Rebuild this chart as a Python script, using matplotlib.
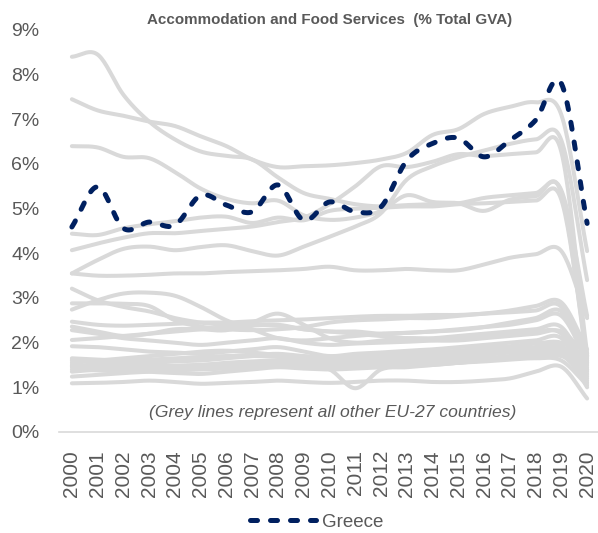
import numpy as np
import matplotlib
matplotlib.use("Agg")
import matplotlib.pyplot as plt

plt.rcParams['font.family'] = ['Liberation Sans', 'DejaVu Sans']

years = list(range(2000, 2021))

greece = [4.59, 5.49, 4.56, 4.70, 4.63, 5.30, 5.08, 4.93, 5.53, 4.74, 5.15,
          4.93, 5.04, 6.08, 6.46, 6.58, 6.16, 6.53, 6.98, 7.80, 4.67]

# other EU-27 countries (grey)
others = [
    [8.40, 8.45, 7.55, 6.95, 6.55, 6.28, 6.18, 6.10, 5.70, 5.35, 5.22, 5.10, 5.05, 5.08, 5.10, 5.12, 5.24, 5.30, 5.35, 5.41, 2.60],
    [7.45, 7.20, 7.08, 6.95, 6.85, 6.62, 6.40, 6.10, 5.93, 5.95, 5.97, 6.02, 6.10, 6.25, 6.65, 6.78, 7.12, 7.28, 7.38, 7.10, 4.05],
    [6.40, 6.37, 6.16, 6.13, 5.82, 5.45, 5.22, 5.12, 5.18, 4.85, 4.75, 4.80, 4.95, 5.30, 5.15, 5.12, 4.95, 5.20, 5.28, 5.35, 1.55],
    [4.44, 4.41, 4.56, 4.65, 4.72, 4.80, 4.82, 4.68, 4.80, 4.74, 4.95, 5.00, 5.02, 5.05, 5.05, 5.10, 5.12, 5.15, 5.18, 5.20, 1.70],
    [4.07, 4.22, 4.35, 4.45, 4.45, 4.50, 4.55, 4.60, 4.70, 4.80, 5.10, 5.50, 5.95, 5.93, 6.05, 6.22, 6.18, 6.22, 6.26, 6.27, 1.75],
    [3.55, 3.85, 4.10, 4.15, 4.07, 4.14, 4.18, 4.05, 3.95, 4.15, 4.37, 4.60, 4.90, 5.65, 5.95, 6.15, 6.30, 6.45, 6.55, 6.53, 3.40],
    [3.55, 3.50, 3.50, 3.52, 3.55, 3.55, 3.58, 3.60, 3.62, 3.65, 3.70, 3.62, 3.62, 3.65, 3.62, 3.62, 3.75, 3.90, 3.98, 4.05, 2.55],
    [3.21, 2.95, 2.80, 2.70, 2.55, 2.45, 2.40, 2.40, 2.38, 2.30, 2.25, 2.25, 2.20, 2.22, 2.25, 2.30, 2.35, 2.40, 2.50, 2.60, 1.60],
    [2.88, 2.88, 2.87, 2.82, 2.50, 2.36, 2.30, 2.28, 2.30, 2.35, 2.45, 2.50, 2.52, 2.55, 2.55, 2.60, 2.65, 2.72, 2.82, 2.90, 1.85],
    [2.74, 2.95, 3.10, 3.12, 3.05, 2.80, 2.50, 2.30, 2.10, 2.05, 2.10, 2.15, 2.20, 2.22, 2.25, 2.28, 2.35, 2.45, 2.55, 2.70, 1.70],
    [2.47, 2.40, 2.38, 2.40, 2.42, 2.45, 2.45, 2.48, 2.50, 2.52, 2.55, 2.58, 2.60, 2.60, 2.62, 2.62, 2.65, 2.68, 2.72, 2.80, 1.50],
    [2.36, 2.25, 2.15, 2.20, 2.30, 2.30, 2.28, 2.45, 2.65, 2.40, 2.10, 2.00, 2.05, 2.10, 2.10, 2.15, 2.20, 2.25, 2.30, 2.35, 1.40],
    [2.28, 2.20, 2.10, 2.05, 2.00, 1.95, 2.00, 2.05, 2.10, 2.00, 1.95, 1.98, 2.00, 2.02, 2.05, 2.10, 2.15, 2.20, 2.25, 2.20, 1.30],
    [2.06, 2.10, 2.15, 2.20, 2.25, 2.30, 2.35, 2.38, 2.40, 2.30, 2.25, 2.20, 2.15, 2.10, 2.05, 2.05, 2.10, 2.15, 2.20, 2.25, 1.70],
    [1.92, 1.90, 1.85, 1.80, 1.78, 1.75, 1.80, 1.85, 1.90, 1.80, 1.70, 1.75, 1.78, 1.82, 1.85, 1.90, 1.95, 2.00, 2.05, 2.10, 1.20],
    [1.65, 1.62, 1.60, 1.62, 1.65, 1.68, 1.70, 1.72, 1.75, 1.70, 1.68, 1.70, 1.72, 1.75, 1.78, 1.82, 1.88, 1.92, 1.98, 2.00, 1.65],
    [1.60, 1.55, 1.52, 1.50, 1.48, 1.50, 1.52, 1.55, 1.58, 1.55, 1.52, 1.55, 1.58, 1.60, 1.65, 1.70, 1.75, 1.80, 1.85, 1.90, 1.10],
    [1.55, 1.60, 1.65, 1.70, 1.75, 1.80, 1.82, 1.78, 1.72, 1.65, 1.60, 1.62, 1.65, 1.68, 1.70, 1.72, 1.75, 1.78, 1.82, 1.85, 1.45],
    [1.50, 1.48, 1.45, 1.42, 1.40, 1.42, 1.45, 1.50, 1.55, 1.50, 1.48, 1.50, 1.52, 1.55, 1.58, 1.62, 1.65, 1.70, 1.75, 1.80, 1.25],
    [1.45, 1.50, 1.55, 1.60, 1.62, 1.65, 1.68, 1.70, 1.68, 1.62, 1.58, 1.60, 1.62, 1.65, 1.68, 1.72, 1.78, 1.85, 1.90, 1.95, 1.00],
    [1.40, 1.38, 1.35, 1.38, 1.40, 1.45, 1.48, 1.50, 1.48, 1.45, 1.40, 0.98, 1.40, 1.45, 1.50, 1.55, 1.60, 1.65, 1.70, 1.72, 1.15],
    [1.35, 1.40, 1.42, 1.45, 1.48, 1.50, 1.55, 1.58, 1.60, 1.55, 1.50, 1.52, 1.55, 1.58, 1.62, 1.68, 1.72, 1.78, 1.80, 1.75, 1.35],
    [1.24, 1.28, 1.32, 1.35, 1.38, 1.40, 1.42, 1.45, 1.48, 1.45, 1.42, 1.45, 1.48, 1.50, 1.52, 1.55, 1.58, 1.62, 1.65, 1.60, 1.05],
    [1.09, 1.10, 1.12, 1.15, 1.12, 1.08, 1.10, 1.12, 1.15, 1.12, 1.10, 1.12, 1.15, 1.15, 1.12, 1.12, 1.15, 1.20, 1.35, 1.46, 0.75],
    [1.62, 1.58, 1.55, 1.55, 1.58, 1.60, 1.65, 1.70, 1.72, 1.68, 1.65, 1.68, 1.70, 1.72, 1.75, 1.78, 1.82, 1.85, 1.88, 1.90, 1.55],
    [1.48, 1.45, 1.40, 1.35, 1.32, 1.30, 1.35, 1.40, 1.45, 1.42, 1.40, 1.42, 1.45, 1.48, 1.50, 1.55, 1.60, 1.65, 1.68, 1.70, 1.40],
]


def smooth(xs, ys, n=20):
    # catmull-rom, like excel's smoothed lines
    x = np.asarray(xs, float)
    y = np.asarray(ys, float)
    px = np.concatenate([[2 * x[0] - x[1]], x, [2 * x[-1] - x[-2]]])
    py = np.concatenate([[2 * y[0] - y[1]], y, [2 * y[-1] - y[-2]]])
    outx, outy = [], []
    t = np.linspace(0, 1, n, endpoint=False)
    for i in range(1, len(px) - 2):
        for p, out in ((px, outx), (py, outy)):
            p0, p1, p2, p3 = p[i - 1], p[i], p[i + 1], p[i + 2]
            out.extend(0.5 * ((2 * p1) + (-p0 + p2) * t
                              + (2 * p0 - 5 * p1 + 4 * p2 - p3) * t ** 2
                              + (-p0 + 3 * p1 - 3 * p2 + p3) * t ** 3))
    outx.append(x[-1])
    outy.append(y[-1])
    return np.array(outx), np.array(outy)


fig = plt.figure(figsize=(5.98, 5.33), dpi=100)
ax = fig.add_axes([59 / 598, (533 - 432) / 533, 541 / 598, 402 / 533])

idx = np.arange(len(years))
for s in others:
    sx, sy = smooth(idx, s)
    ax.plot(sx, sy, color='#D9D9D9', lw=2.9, solid_capstyle='round', zorder=2)

gx, gy = smooth(idx, greece)
ax.plot(gx, gy, color='#002060', lw=3.6, linestyle=(0, (1.4, 2.6)),
        dash_capstyle='round', zorder=3, label='Greece')

ax.set_xlim(-0.5, len(years) - 0.5)
ax.set_ylim(0, 9)
ax.set_xticks(idx)
ax.set_xticklabels([str(y) for y in years], rotation=90, fontsize=15, color='#595959')
ax.set_yticks(range(0, 10))
ax.set_yticklabels([f'{v}%' for v in range(0, 10)], fontsize=14, color='#595959')
ax.tick_params(axis='both', length=0)
ax.tick_params(axis='x', pad=13)
ax.tick_params(axis='y', pad=14)

for sp in ['top', 'right', 'left']:
    ax.spines[sp].set_visible(False)
ax.spines['bottom'].set_color('#D9D9D9')
ax.spines['bottom'].set_linewidth(1.2)
ax.patch.set_alpha(0)

fig.text(330 / 598, 1 - 20 / 533, 'Accommodation and Food Services  (% Total GVA)',
         ha='center', va='center', fontsize=10.9, fontweight='bold', color='#595959')
ax.text(0.505, 20 / 402, '(Grey lines represent all other EU-27 countries)',
        transform=ax.transAxes, ha='center', va='center', fontsize=12.6,
        style='italic', color='#595959')

fig.legend(loc='center', bbox_to_anchor=(317 / 598, 1 - 522 / 533), frameon=False,
           fontsize=13.5, handlelength=3.5, labelcolor='#595959', handletextpad=0.35)

fig.savefig('out.png', dpi=100)
